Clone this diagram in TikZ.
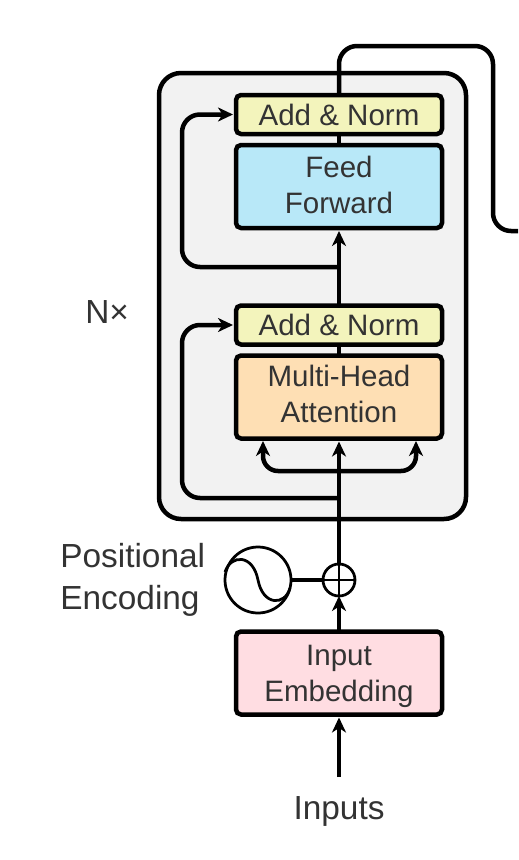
\documentclass[tikz,border=0pt]{standalone}
\usepackage{fontspec}
\setmainfont{Liberation Sans}
\usetikzlibrary{arrows.meta}
\definecolor{normfill}{HTML}{F3F4BC}
\definecolor{feedfill}{HTML}{B8E8F8}
\definecolor{attnfill}{HTML}{FEDFB4}
\definecolor{embfill}{HTML}{FFDDE2}
\definecolor{layerfill}{HTML}{F2F2F2}
\definecolor{inktext}{HTML}{333333}
\begin{document}
\begin{tikzpicture}[
    block/.style={draw, line width=0.09cm, rounded corners=0.1cm, minimum width=4.12cm, outer sep=0pt, align=center, text=inktext, font=\fontsize{16.8}{20.4}\selectfont},
    norm/.style={block, fill=normfill, minimum height=0.78cm},
    tall/.style={block, minimum height=1.66cm},
    label/.style={align=left, text=inktext, inner sep=0pt, font=\fontsize{19}{23.8}\selectfont},
    wire/.style={line width=0.09cm},
    arr/.style={wire, -{Stealth[length=0.3cm, width=0.28cm, inset=0.09cm]}, shorten >=0.06cm},
    ring/.style={draw, circle, line width=0.055cm, inner sep=0pt, outer sep=0pt}
]
\useasboundingbox (0,0) rectangle (10.36,-17.2);
\node[draw, line width=0.09cm, rounded corners=0.44cm, fill=layerfill, minimum width=6.14cm, minimum height=8.92cm, outer sep=0pt] (layer) at (6.25,-5.92) {};

\node[norm] (addtop) at (6.78,-2.29) {Add \& Norm};
\node[tall, fill=feedfill, text depth=0.08cm] (feed) at (6.78,-3.73) {Feed\\Forward};
\node[norm] (addlow) at (6.78,-6.5) {Add \& Norm};
\node[tall, fill=attnfill, text depth=0.12cm] (attn) at (6.78,-7.94) {Multi-Head\\Attention};
\node[tall, fill=embfill, text depth=0pt] (emb) at (6.78,-13.46) {Input\\Embedding};
\node[ring, fill=white, minimum size=0.64cm] (plus) at (6.78,-11.6) {};
\node[ring, minimum size=1.32cm] (pos) at (5.16,-11.6) {};

\node[label, anchor=west] (nx) at (1.7,-6.24) {N×};
\node[label, anchor=west] (poslabel) at (1.2,-11.6) {Positional\\Encoding};
\node[label] (inputs) at (6.78,-16.22) {Inputs};

\coordinate (start) at (6.78,-15.54);
\coordinate (forktop) at (6.78,-5.34);
\coordinate (forklow) at (6.78,-9.96);
\coordinate (bus) at (6.78,-9.42);
\coordinate (keyin) at (5.26,-8.76);
\coordinate (valin) at (8.32,-8.76);
\coordinate (up) at (6.78,-0.92);
\coordinate (over) at (9.86,-0.92);
\coordinate (down) at (9.86,-4.62);
\coordinate (out) at (10.36,-4.62);
\coordinate (sideleft) at (3.64,-5.34);

\draw[arr] (start) -- (emb);
\draw[arr, shorten >=0pt] (emb) -- (plus);
\draw[arr] (plus) -- (attn);
\draw[wire] (attn) -- (addlow);
\draw[arr] (addlow) -- (feed);
\draw[wire] (feed) -- (addtop);
\draw[wire] (pos) -- (plus);

% bypass around each sublayer
\draw[arr, rounded corners=0.36cm] (forklow) -| (3.64,-6.5) -- (addlow);
\draw[arr, rounded corners=0.36cm] (forktop) -- (sideleft) |- (addtop);
\draw[arr, rounded corners=0.3cm] (bus) -| (keyin);
\draw[arr, rounded corners=0.3cm] (bus) -| (valin);
\draw[wire, rounded corners=0.36cm] (addtop) -- (up) -- (over) -- (down) -- (out);

\draw[line width=0.055cm] (plus.north) -- (plus.south);
\draw[line width=0.055cm] (plus.west) -- (plus.east);
\draw[line width=0.055cm] (pos.west) ++(0,0.16) .. controls (4.62,-11.08) and (5.06,-11.08) .. (5.16,-11.6) .. controls (5.26,-12.12) and (5.7,-12.12) .. (5.8,-11.76);
\end{tikzpicture}
\end{document}
